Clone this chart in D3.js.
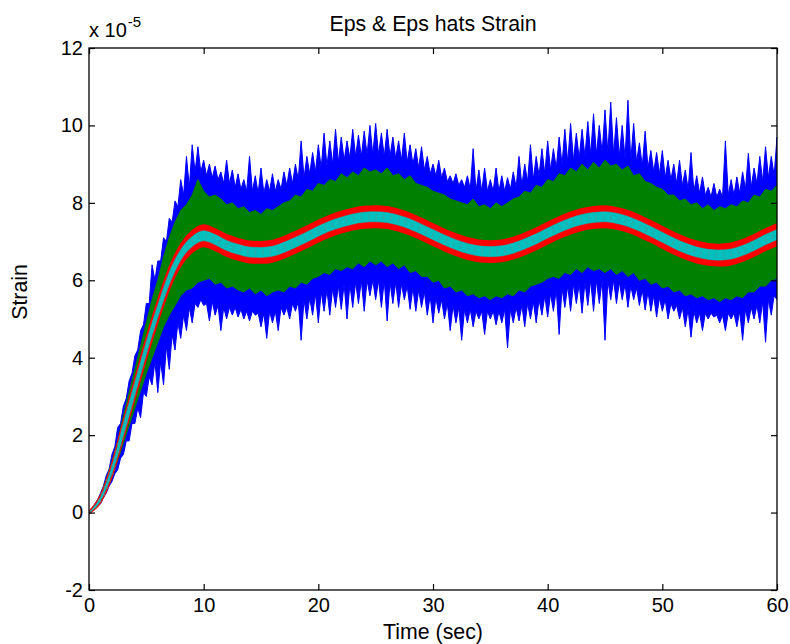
<!DOCTYPE html>
<html>
<head>
<meta charset="utf-8">
<script src="https://cdn.jsdelivr.net/npm/d3@7"></script>
<style>
  body { margin: 0; background: #fff; }
  text { font-family: Arial, "Liberation Sans", Helvetica, sans-serif; fill: #000; }
</style>
</head>
<body>
<svg id="chart" width="790" height="644"></svg>
<script>
// ---- data (strain in units of 1e-5) ----
// measured strain (blue): upper / lower envelope every 0.25 s
const epsStep = 0.25;
const epsTop = [
  0.02,0.1,0.22,0.33,0.5,0.68,0.95,1.12,1.5,1.7,2.2,2.3,2.75,2.95,3.4,3.6,4.05,4.2,4.7,4.85,
  5.4,5.4,6.4,6.0,6.5,6.5,7.1,7.0,7.6,7.5,8.05,7.9,8.6,8.2,9.2,8.4,9.5,8.8,9.45,8.8,
  9.1,8.7,9.0,8.65,8.95,8.6,8.8,8.5,9.1,8.5,8.85,8.4,8.75,8.35,8.6,8.3,9.2,8.3,8.7,8.25,
  8.9,8.25,8.6,8.3,8.75,8.3,8.6,8.35,8.8,8.45,8.9,8.5,9.0,8.6,9.6,8.65,9.2,8.75,9.3,8.8,
  9.5,8.9,9.8,8.95,9.6,9.0,9.9,9.05,9.7,9.1,9.6,9.15,9.9,9.2,9.75,9.2,9.85,9.25,10.0,9.25,
  10.05,9.25,9.8,9.2,9.9,9.2,9.7,9.15,9.6,9.1,9.8,9.05,9.5,9.0,9.4,8.9,9.45,8.85,9.2,8.75,
  9.0,8.7,9.1,8.65,8.9,8.55,8.7,8.5,8.75,8.45,8.6,8.4,8.7,8.35,9.4,8.3,8.85,8.3,8.9,8.3,
  8.6,8.3,8.9,8.3,8.7,8.3,8.65,8.35,8.8,8.4,9.2,8.45,9.0,8.55,9.5,8.6,9.2,8.7,9.4,8.75,
  9.6,8.85,9.4,8.9,9.7,9.0,9.9,9.05,10.05,9.1,9.8,9.15,9.9,9.2,10.1,9.25,10.3,9.25,10.0,9.3,
  10.4,9.3,10.6,9.25,10.2,9.2,10.0,9.15,10.65,9.1,10.05,9.05,9.55,8.95,9.85,8.9,9.35,8.8,9.3,8.75,
  9.35,8.65,9.1,8.6,9.0,8.5,9.1,8.45,8.85,8.35,9.3,8.3,8.7,8.25,8.67,8.2,8.4,8.15,8.5,8.15,
  8.35,8.15,9.6,8.2,8.6,8.2,8.67,8.25,8.8,8.35,9.28,8.4,8.9,8.5,9.2,8.55,9.45,8.65,9.2,8.7,
  9.7];
const epsBottom = [
  -0.02,0.05,0.08,0.17,0.22,0.38,0.5,0.68,0.8,1.0,1.1,1.4,1.5,1.85,1.85,2.3,2.3,2.7,2.45,3.1,
  3.0,3.5,3.3,3.9,3.1,3.9,3.3,4.3,3.7,4.6,4.2,4.9,4.5,5.1,4.7,5.3,4.9,5.4,5.3,5.5,
  5.35,5.4,4.95,5.45,5.1,5.35,4.7,5.3,5.0,5.3,5.1,5.3,5.05,5.25,5.0,5.2,4.95,5.2,5.1,5.15,
  4.8,5.15,4.5,5.2,4.9,5.2,4.7,5.3,5.1,5.3,5.0,5.4,5.2,5.45,4.45,5.5,5.0,5.55,5.1,5.65,
  4.9,5.7,5.2,5.75,5.1,5.8,5.3,5.85,5.25,5.9,5.0,5.9,5.3,5.95,5.4,6.0,5.2,6.0,5.6,6.0,
  5.5,6.0,5.3,6.0,4.95,5.95,5.4,5.95,5.3,5.9,5.5,5.85,5.25,5.8,5.2,5.75,5.3,5.7,5.1,5.6,
  4.9,5.55,5.15,5.5,5.0,5.4,4.7,5.35,4.9,5.3,4.45,5.25,4.9,5.25,4.8,5.2,5.0,5.2,4.6,5.2,
  5.0,5.2,4.85,5.2,4.9,5.25,4.25,5.25,4.9,5.3,4.95,5.35,4.8,5.4,5.0,5.45,4.9,5.5,5.1,5.6,
  5.05,5.65,5.2,5.75,4.6,5.8,5.3,5.85,5.2,5.9,5.4,5.9,5.15,5.95,5.35,6.0,5.2,6.0,5.4,6.0,
  4.45,6.0,5.5,6.0,5.4,5.95,5.5,5.9,5.3,5.85,5.5,5.8,5.35,5.75,5.23,5.7,5.2,5.6,5.05,5.55,
  5.2,5.5,5.0,5.4,5.2,5.35,5.0,5.3,4.8,5.25,4.53,5.2,4.9,5.15,4.7,5.15,5.0,5.15,5.05,5.1,
  4.9,5.1,4.7,5.15,5.0,5.15,4.8,5.2,4.45,5.25,4.9,5.3,5.0,5.35,4.9,5.45,4.4,5.5,5.1,5.6,
  5.5];

// first estimate (green): upper / lower envelope every 0.5 s
const hatStep = 0.5;
const hatTop = [0.01,0.19,0.45,0.85,1.32,1.85,2.5,3.1,3.7,4.3,4.9,5.5,6.0,6.6,7.1,7.5,7.8,7.95,8.2,8.6,
  8.3,8.15,8.2,8.1,7.95,8.0,7.85,7.9,7.75,7.8,7.7,7.85,7.8,7.9,8.0,8.05,8.2,8.15,8.35,8.3,
  8.5,8.45,8.6,8.55,8.75,8.65,8.8,8.7,8.9,8.8,8.85,8.75,8.9,8.7,8.75,8.6,8.7,8.5,8.45,8.4,
  8.3,8.25,8.2,8.1,8.05,8.0,7.95,8.1,7.9,7.95,7.85,8.0,7.9,8.0,8.1,8.15,8.3,8.25,8.45,8.4,
  8.6,8.55,8.75,8.7,8.9,8.8,9.0,8.85,9.05,8.9,9.1,8.95,9.0,8.85,8.95,8.7,8.75,8.55,8.5,8.4,
  8.35,8.2,8.2,8.05,8.1,7.95,8.0,7.85,7.95,7.8,7.9,7.85,7.95,7.9,8.05,8.0,8.2,8.15,8.35,8.3,8.45];
const hatBottom = [-0.01,0.11,0.26,0.57,0.9,1.35,1.8,2.25,2.7,3.15,3.6,4.0,4.4,4.8,5.1,5.35,5.6,5.75,5.8,5.95,
  6.0,6.05,5.9,5.95,5.8,5.85,5.75,5.7,5.8,5.65,5.75,5.6,5.7,5.75,5.7,5.85,5.8,5.95,5.9,6.05,
  6.1,6.2,6.15,6.3,6.25,6.35,6.3,6.45,6.35,6.5,6.4,6.5,6.35,6.45,6.3,6.4,6.2,6.25,6.1,6.1,
  5.95,6.0,5.8,5.85,5.7,5.75,5.6,5.65,5.55,5.6,5.5,5.6,5.55,5.65,5.6,5.75,5.7,5.85,5.9,5.95,
  6.05,6.1,6.05,6.2,6.15,6.3,6.2,6.35,6.25,6.3,6.2,6.3,6.15,6.25,6.1,6.2,6.0,6.05,5.9,5.95,
  5.8,5.85,5.7,5.75,5.6,5.65,5.55,5.6,5.5,5.55,5.45,5.55,5.5,5.6,5.55,5.7,5.7,5.85,5.85,6.0,6.05];

// refined estimates (red, cyan): upper / lower envelope every 1 s
const coarseStep = 1;
const hat2Top = [0.02,0.43,1.25,2.35,3.44,4.51,5.47,6.32,6.92,7.27,7.42,7.32,7.17,7.07,7.0,6.99,7.02,7.12,7.25,7.39,
  7.54,7.67,7.77,7.85,7.9,7.91,7.89,7.82,7.72,7.59,7.45,7.31,7.19,7.09,7.03,7.01,7.03,7.1,7.21,7.34,
  7.49,7.63,7.75,7.84,7.89,7.91,7.87,7.79,7.67,7.53,7.38,7.23,7.1,7.0,6.94,6.92,6.95,7.04,7.17,7.32,7.45];
const hat2Bottom = [-0.02,0.27,0.95,1.95,2.96,3.99,4.93,5.78,6.38,6.73,6.88,6.78,6.63,6.53,6.46,6.45,6.48,6.58,6.71,6.85,
  7.0,7.13,7.23,7.31,7.36,7.37,7.35,7.28,7.18,7.05,6.91,6.77,6.65,6.55,6.49,6.47,6.49,6.56,6.67,6.8,
  6.95,7.09,7.21,7.3,7.35,7.37,7.33,7.25,7.13,6.99,6.84,6.69,6.56,6.46,6.4,6.38,6.41,6.5,6.63,6.78,6.91];
const hat3Top = [0.01,0.4,1.2,2.31,3.36,4.41,5.36,6.21,6.79,7.13,7.28,7.18,7.03,6.93,6.86,6.85,6.88,6.98,7.11,7.25,
  7.4,7.53,7.63,7.71,7.76,7.77,7.75,7.68,7.58,7.45,7.31,7.17,7.05,6.95,6.89,6.87,6.89,6.96,7.07,7.2,
  7.35,7.49,7.61,7.7,7.75,7.77,7.73,7.65,7.53,7.39,7.24,7.09,6.96,6.86,6.8,6.78,6.81,6.9,7.03,7.18,7.31];
const hat3Bottom = [-0.01,0.3,1.0,1.99,3.04,4.09,5.04,5.89,6.52,6.87,7.02,6.92,6.77,6.67,6.6,6.59,6.62,6.72,6.85,6.99,
  7.14,7.27,7.37,7.45,7.5,7.51,7.49,7.42,7.32,7.19,7.05,6.91,6.79,6.69,6.63,6.61,6.63,6.7,6.81,6.94,
  7.09,7.23,7.35,7.44,7.49,7.51,7.47,7.39,7.27,7.13,6.98,6.83,6.7,6.6,6.54,6.52,6.55,6.64,6.77,6.92,7.05];

const xTicks = [0, 10, 20, 30, 40, 50, 60];
const yTicks = [-2, 0, 2, 4, 6, 8, 10, 12];

const titleText = "Eps & Eps hats Strain";
const xLabelText = "Time (sec)";
const yLabelText = "Strain";

// ---- layout ----
const plot = { left: 89, right: 777, top: 48, bottom: 590 };
const svg = d3.select("#chart");

const x = d3.scaleLinear().domain([0, 60]).range([plot.left, plot.right]);
const y = d3.scaleLinear().domain([-2, 12]).range([plot.bottom, plot.top]);

svg.append("defs").append("clipPath").attr("id", "plotClip")
  .append("rect")
  .attr("x", plot.left).attr("y", plot.top)
  .attr("width", plot.right - plot.left).attr("height", plot.bottom - plot.top);

const layer = svg.append("g").attr("clip-path", "url(#plotClip)");

// filled band between an upper and a lower envelope
function band(top, bottom, step, color, curve, strokeW) {
  const rows = top.map((v, i) => ({ t: i * step, hi: v, lo: bottom[i] }));
  const area = d3.area()
    .x(d => x(d.t))
    .y0(d => y(d.lo))
    .y1(d => y(d.hi))
    .curve(curve);
  layer.append("path")
    .datum(rows)
    .attr("d", area)
    .attr("fill", color)
    .attr("stroke", color)
    .attr("stroke-width", strokeW)
    .attr("stroke-linejoin", "miter");
  return rows;
}

band(epsTop, epsBottom, epsStep, "#0000ff", d3.curveLinear, 1);
band(hatTop, hatBottom, hatStep, "#008000", d3.curveLinear, 1);
band(hat2Top, hat2Bottom, coarseStep, "#ff0000", d3.curveMonotoneX, 2);
const cyanRows = band(hat3Top, hat3Bottom, coarseStep, "#00bfbf", d3.curveMonotoneX, 0.5);

// faint darker marks along the centre of the cyan trace
layer.append("path")
  .datum(cyanRows)
  .attr("d", d3.line().x(d => x(d.t)).y(d => y((d.hi + d.lo) / 2)).curve(d3.curveMonotoneX))
  .attr("fill", "none")
  .attr("stroke", "#4f9a9a")
  .attr("stroke-opacity", 0.55)
  .attr("stroke-width", 5)
  .attr("stroke-dasharray", "1.5,6");

// ---- axes box with inward ticks on all sides ----
const axisG = svg.append("g");
const tickLen = 6;

axisG.append("rect")
  .attr("x", plot.left).attr("y", plot.top)
  .attr("width", plot.right - plot.left).attr("height", plot.bottom - plot.top)
  .attr("fill", "none").attr("stroke", "#000").attr("stroke-width", 1.3);

const xAxisB = d3.axisBottom(x).tickValues(xTicks).tickSizeInner(-tickLen).tickSizeOuter(0).tickPadding(8).tickFormat(d3.format("d"));
const xAxisT = d3.axisTop(x).tickValues(xTicks).tickSizeInner(-tickLen).tickSizeOuter(0).tickFormat("");
const yAxisL = d3.axisLeft(y).tickValues(yTicks).tickSizeInner(-tickLen).tickSizeOuter(0).tickPadding(6).tickFormat(d => d < 0 ? "-" + Math.abs(d) : String(d));
const yAxisR = d3.axisRight(y).tickValues(yTicks).tickSizeInner(-tickLen).tickSizeOuter(0).tickFormat("");

function styleAxis(g) {
  g.select(".domain").remove();
  g.selectAll(".tick line").attr("stroke", "#000").attr("stroke-width", 1.2);
  g.selectAll(".tick text").style("font-size", "20px").attr("fill", "#000");
}

axisG.append("g").attr("transform", `translate(0,${plot.bottom})`).call(xAxisB).call(styleAxis);
axisG.append("g").attr("transform", `translate(0,${plot.top})`).call(xAxisT).call(styleAxis);
axisG.append("g").attr("transform", `translate(${plot.left},0)`).call(yAxisL).call(styleAxis);
axisG.append("g").attr("transform", `translate(${plot.right},0)`).call(yAxisR).call(styleAxis);

// exponent label above the y axis
const expo = svg.append("text").attr("x", plot.left).attr("y", 37).style("font-size", "20px");
expo.append("tspan").text("x 10");
expo.append("tspan").attr("dy", -10).attr("dx", 1).style("font-size", "15px").text("-5");

// title and axis labels
svg.append("text").attr("x", (plot.left + plot.right) / 2).attr("y", 31)
  .attr("text-anchor", "middle").style("font-size", "21.3px").text(titleText);
svg.append("text").attr("x", (plot.left + plot.right) / 2).attr("y", 639)
  .attr("text-anchor", "middle").style("font-size", "21.3px").text(xLabelText);
svg.append("text").attr("transform", "translate(27,292) rotate(-90)")
  .attr("text-anchor", "middle").style("font-size", "21.3px").text(yLabelText);
</script>
</body>
</html>
